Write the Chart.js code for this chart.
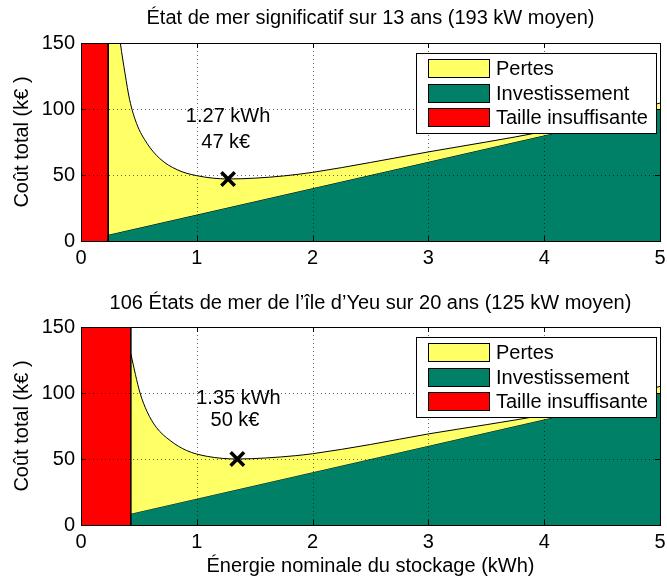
<!DOCTYPE html>
<html lang="fr">
<head>
<meta charset="utf-8">
<title>Coût total du stockage</title>
<script src="https://cdn.jsdelivr.net/npm/chart.js@4.4.1/dist/chart.umd.min.js"></script>
<style>
  html, body { margin: 0; padding: 0; background: #fff; }
  canvas { display: block; }
</style>
</head>
<body>
<canvas id="haut" width="667" height="285"></canvas>
<canvas id="bas" width="667" height="296"></canvas>
<script>
// textes et graduations
const titreHaut = 'État de mer significatif sur 13 ans (193 kW moyen)';
const titreBas = '106 États de mer de l’île d’Yeu sur 20 ans (125 kW moyen)';
const titreAxeY = 'Coût total (k€ )';
const titreAxeX = 'Énergie nominale du stockage (kWh)';
const legendeLabels = ['Pertes', 'Investissement', 'Taille insuffisante'];
const ticksX = [0, 1, 2, 3, 4, 5];
const ticksY = [0, 50, 100, 150];

// graphe du haut (k€)
const energieHaut = [0.235, 0.27, 0.30, 0.34, 0.38, 0.42, 0.48, 0.57, 0.68, 0.83, 1.0, 1.27, 1.5, 1.75, 2.0, 2.5, 3.0, 3.5, 4.0, 4.5, 5.0];
const coutTotalHaut = [300, 215, 180, 150, 127, 107, 89, 74, 62.5, 54, 49.5, 47, 47.6, 49.3, 52, 59.5, 67.5, 75, 83, 93, 104.5];
const investEnergieHaut = [0.235, 5];
const investHaut = [4.7, 100];
const tailleMinHaut = 0.235;
const optimumHaut = [1.27, 47];
const texteOptimumHaut = ['1.27 kWh', '47 k€'];

// graphe du bas
const energieBas = [0.43, 0.47, 0.51, 0.57, 0.65, 0.77, 0.91, 1.09, 1.35, 1.6, 1.85, 2.0, 2.5, 3.0, 3.5, 4.0, 4.5, 5.0];
const coutTotalBas = [130, 114, 100, 86, 74, 64, 56.5, 52, 50, 50.8, 52.5, 54, 61, 69, 76, 83.5, 93.5, 105];
const investEnergieBas = [0.43, 5];
const investBas = [8.6, 100];
const tailleMinBas = 0.43;
const optimumBas = [1.35, 50];
const texteOptimumBas = ['1.35 kWh', '50 k€'];

const JAUNE = '#ffff66';
const VERT = 'rgb(0,128,102)';
const ROUGE = '#ff0000';
const POLICE = "20px 'Liberation Sans', Arial, sans-serif";

Chart.defaults.font.family = "'Liberation Sans', Arial, sans-serif";
Chart.defaults.font.size = 20;
Chart.defaults.color = '#000';

// grille pointillée, cadre et petits traits à la MATLAB
const cadreMatlab = {
    id: 'cadreMatlab',
    afterDatasetsDraw(chart) {
        const {ctx, chartArea: a, scales: {x, y}} = chart;
        ctx.save();
        ctx.lineWidth = 1;
        ctx.strokeStyle = 'rgba(0,0,0,0.6)';
        ctx.setLineDash([1, 3]);
        x.ticks.forEach(t => {
            const px = Math.round(x.getPixelForValue(t.value)) + 0.5;
            ctx.beginPath(); ctx.moveTo(px, a.top); ctx.lineTo(px, a.bottom); ctx.stroke();
        });
        y.ticks.forEach(t => {
            const py = Math.round(y.getPixelForValue(t.value)) + 0.5;
            ctx.beginPath(); ctx.moveTo(a.left, py); ctx.lineTo(a.right, py); ctx.stroke();
        });
        ctx.setLineDash([]);
        ctx.strokeStyle = '#000';
        ctx.beginPath();
        x.ticks.forEach(t => {
            const px = Math.round(x.getPixelForValue(t.value)) + 0.5;
            ctx.moveTo(px, a.bottom); ctx.lineTo(px, a.bottom - 5);
            ctx.moveTo(px, a.top); ctx.lineTo(px, a.top + 5);
        });
        y.ticks.forEach(t => {
            const py = Math.round(y.getPixelForValue(t.value)) + 0.5;
            ctx.moveTo(a.left, py); ctx.lineTo(a.left + 5, py);
            ctx.moveTo(a.right, py); ctx.lineTo(a.right - 5, py);
        });
        ctx.stroke();
        ctx.strokeRect(Math.round(a.left) + 0.5, Math.round(a.top) + 0.5,
            Math.round(a.right - a.left), Math.round(a.bottom - a.top));
        ctx.restore();
    }
};

// légende encadrée dans le coin haut droit
const legendeMatlab = {
    id: 'legendeMatlab',
    afterDraw(chart) {
        const {ctx, chartArea: a} = chart;
        const couleurs = [JAUNE, VERT, ROUGE];
        const gauche = Math.round(a.right - 244), haut = Math.round(a.top + 10);
        ctx.save();
        ctx.fillStyle = '#fff';
        ctx.fillRect(gauche, haut, 241, 81);
        ctx.strokeStyle = '#000';
        ctx.lineWidth = 1;
        ctx.strokeRect(gauche + 0.5, haut + 0.5, 240, 80);
        ctx.font = POLICE;
        ctx.textBaseline = 'middle';
        legendeLabels.forEach((lab, i) => {
            const yy = Math.round(haut + 6 + i * 24.7);
            ctx.fillStyle = couleurs[i];
            ctx.fillRect(gauche + 12, yy, 62, 19);
            ctx.strokeRect(gauche + 12.5, yy + 0.5, 61, 18);
            ctx.fillStyle = '#000';
            ctx.fillText(lab, gauche + 80, yy + 10);
        });
        ctx.restore();
    }
};

// texte de l'optimum
const texteOptimum = {
    id: 'texteOptimum',
    afterDraw(chart, args, opts) {
        const {ctx, scales: {x, y}} = chart;
        ctx.save();
        ctx.font = POLICE;
        ctx.fillStyle = '#000';
        ctx.textAlign = 'center';
        ctx.textBaseline = 'middle';
        opts.lignes.forEach((l, i) => {
            ctx.fillText(l, x.getPixelForValue(opts.x[i]), y.getPixelForValue(opts.y[i]));
        });
        ctx.restore();
    }
};

function points(xs, ys) {
    return xs.map((v, i) => ({x: v, y: ys[i]}));
}

function creerGraphe(id, d) {
    return new Chart(document.getElementById(id), {
        type: 'line',
        data: {
            datasets: [
                {
                    label: 'Optimum',
                    data: [{x: d.optimum[0], y: d.optimum[1]}],
                    showLine: false,
                    pointStyle: 'crossRot',
                    pointRadius: 9.5,
                    pointBorderWidth: 3.5,
                    pointBorderColor: '#000'
                },
                {
                    label: legendeLabels[2],
                    data: [{x: 0, y: 0}, {x: 0, y: 150}, {x: d.tailleMin, y: 150}, {x: d.tailleMin, y: 0}],
                    backgroundColor: ROUGE,
                    borderColor: '#000',
                    borderWidth: 1,
                    pointRadius: 0,
                    tension: 0,
                    fill: 'origin'
                },
                {
                    label: legendeLabels[0],
                    data: points(d.energie, d.total),
                    backgroundColor: JAUNE,
                    borderColor: '#000',
                    borderWidth: 1,
                    pointRadius: 0,
                    cubicInterpolationMode: 'monotone',
                    fill: '+1'
                },
                {
                    label: legendeLabels[1],
                    data: points(d.investEnergie, d.invest),
                    backgroundColor: VERT,
                    borderColor: '#000',
                    borderWidth: 1,
                    pointRadius: 0,
                    tension: 0,
                    fill: 'origin'
                }
            ]
        },
        options: {
            responsive: false,
            animation: false,
            devicePixelRatio: 1,
            layout: { autoPadding: false, padding: { left: 0, right: 7, top: 0, bottom: 0 } },
            scales: {
                x: {
                    type: 'linear',
                    min: 0,
                    max: 5,
                    afterBuildTicks: s => { s.ticks = ticksX.map(v => ({value: v})); },
                    afterFit: s => {
                        s.height = d.hauteurAxeX;
                        s.paddingLeft = 0;
                        s.paddingRight = 0;
                    },
                    grid: { display: false, drawTicks: false },
                    border: { display: false },
                    ticks: { padding: 5, maxRotation: 0 },
                    title: {
                        display: !!d.titreX,
                        text: d.titreX || '',
                        padding: { top: 0, bottom: 3 }
                    }
                },
                y: {
                    min: 0,
                    max: 150,
                    afterBuildTicks: s => { s.ticks = ticksY.map(v => ({value: v})); },
                    afterFit: s => { s.width = 81; },
                    grid: { display: false, drawTicks: false },
                    border: { display: false },
                    ticks: { padding: 6 },
                    title: {
                        display: true,
                        text: titreAxeY,
                        padding: { top: 10, bottom: 0 }
                    }
                }
            },
            plugins: {
                legend: { display: false },
                tooltip: { enabled: false },
                title: {
                    display: true,
                    text: d.titre,
                    fullSize: false,
                    font: { size: 20, weight: 'normal' },
                    padding: { top: 6, bottom: d.espaceTitre }
                },
                texteOptimum: d.texte
            }
        },
        plugins: [cadreMatlab, legendeMatlab, texteOptimum]
    });
}

creerGraphe('haut', {
    titre: titreHaut,
    espaceTitre: 13,
    hauteurAxeX: 44,
    energie: energieHaut,
    total: coutTotalHaut,
    investEnergie: investEnergieHaut,
    invest: investHaut,
    tailleMin: tailleMinHaut,
    optimum: optimumHaut,
    texte: { lignes: texteOptimumHaut, x: [1.27, 1.25], y: [94, 75] }
});

creerGraphe('bas', {
    titre: titreBas,
    espaceTitre: 12,
    hauteurAxeX: 56,
    titreX: titreAxeX,
    energie: energieBas,
    total: coutTotalBas,
    investEnergie: investEnergieBas,
    invest: investBas,
    tailleMin: tailleMinBas,
    optimum: optimumBas,
    texte: { lignes: texteOptimumBas, x: [1.36, 1.33], y: [96, 79] }
});
</script>
</body>
</html>
